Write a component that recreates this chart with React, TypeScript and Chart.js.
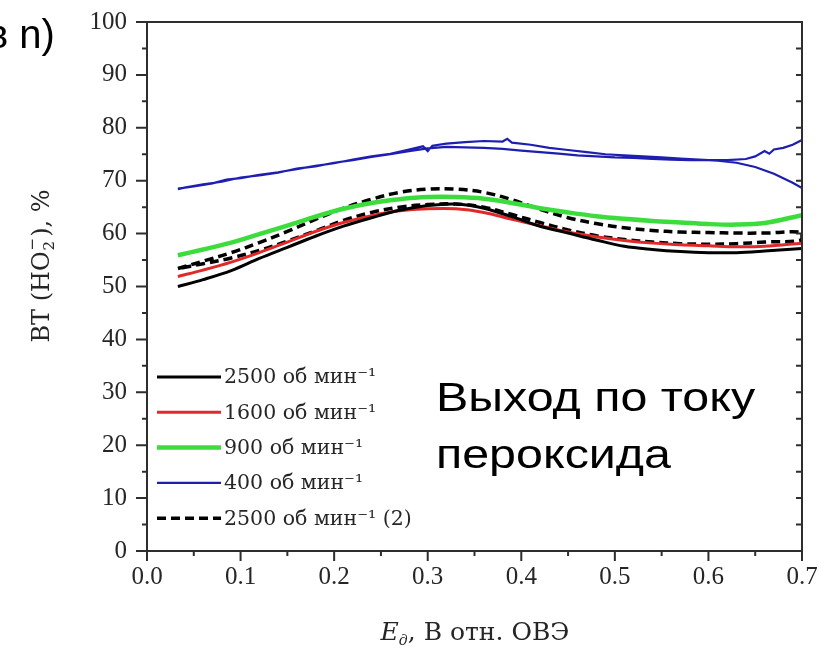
import React, { useEffect, useRef } from 'react';
import { Chart, registerables } from 'chart.js';

Chart.register(...registerables);

// ---- data ----
const E = [0.033, 0.06, 0.09, 0.12, 0.15, 0.18, 0.21, 0.24, 0.27, 0.30, 0.33, 0.36, 0.39, 0.42, 0.45, 0.48, 0.51, 0.54, 0.57, 0.60, 0.63, 0.66, 0.70];
const BT_2500 = [50.0, 51.3, 53.0, 55.3, 57.4, 59.5, 61.4, 63.0, 64.4, 65.3, 65.6, 64.8, 63.2, 61.4, 60.1, 58.8, 57.6, 57.0, 56.6, 56.4, 56.4, 56.7, 57.2];
const BT_1600 = [51.9, 53.1, 54.6, 56.4, 58.4, 60.4, 62.1, 63.4, 64.3, 64.7, 64.7, 64.0, 62.7, 61.5, 60.3, 59.4, 58.7, 58.2, 57.9, 57.7, 57.5, 57.6, 58.2];
const BT_900 = [55.9, 57.0, 58.3, 59.9, 61.5, 63.2, 64.7, 65.8, 66.5, 66.9, 66.9, 66.6, 65.8, 64.8, 64.0, 63.3, 62.8, 62.4, 62.1, 61.8, 61.7, 62.0, 63.5];
const BT_2500B_FWD = [53.4, 54.8, 56.4, 58.3, 60.4, 62.7, 64.8, 66.5, 67.8, 68.4, 68.4, 67.8, 66.4, 64.6, 63.0, 61.9, 61.1, 60.6, 60.3, 60.2, 60.1, 60.1, 60.2];
const E_BACK = [0.70, 0.66, 0.63, 0.60, 0.57, 0.54, 0.51, 0.48, 0.45, 0.42, 0.39, 0.36, 0.33, 0.30, 0.27, 0.24, 0.21, 0.18, 0.15, 0.12, 0.09, 0.06, 0.033];
const BT_2500B_BACK = [58.8, 58.4, 58.1, 58.0, 58.1, 58.4, 58.9, 59.6, 60.7, 62.1, 63.6, 65.0, 65.6, 65.5, 65.0, 64.0, 62.5, 60.5, 58.6, 56.8, 55.4, 54.3, 53.4];

const E_400_FWD = [0.033, 0.05, 0.07, 0.085, 0.10, 0.12, 0.14, 0.16, 0.18, 0.20, 0.22, 0.24, 0.26, 0.28, 0.295, 0.30, 0.305, 0.32, 0.34, 0.36, 0.38, 0.385, 0.39, 0.41, 0.43, 0.45, 0.47, 0.49, 0.51, 0.53, 0.55, 0.57, 0.59, 0.61, 0.63, 0.65, 0.67, 0.69, 0.70];
const BT_400_FWD = [68.5, 68.9, 69.5, 70.2, 70.5, 71.1, 71.6, 72.2, 72.8, 73.3, 74.0, 74.6, 75.1, 75.9, 76.5, 75.6, 76.6, 77.0, 77.3, 77.5, 77.4, 77.9, 77.2, 76.8, 76.2, 75.8, 75.4, 75.0, 74.8, 74.6, 74.4, 74.2, 74.0, 73.8, 73.4, 72.6, 71.3, 69.6, 68.6];
const E_400_BACK = [0.70, 0.69, 0.68, 0.67, 0.665, 0.66, 0.65, 0.64, 0.62, 0.60, 0.58, 0.56, 0.54, 0.52, 0.50, 0.48, 0.46, 0.44, 0.42, 0.40, 0.38, 0.36, 0.34, 0.32, 0.30, 0.28, 0.26, 0.24, 0.22, 0.20, 0.18, 0.16, 0.14, 0.12, 0.10, 0.08, 0.06, 0.04, 0.033];
const BT_400_BACK = [77.7, 76.8, 76.2, 75.9, 75.1, 75.6, 74.6, 74.1, 73.9, 73.9, 73.9, 74.0, 74.1, 74.3, 74.4, 74.6, 74.8, 75.1, 75.4, 75.7, 76.0, 76.2, 76.3, 76.4, 76.1, 75.6, 75.0, 74.5, 73.9, 73.4, 72.7, 72.3, 71.5, 71.0, 70.6, 69.8, 69.3, 68.7, 68.4];

const X_TICKS = [0, 0.1, 0.2, 0.3, 0.4, 0.5, 0.6, 0.7];
const Y_TICKS = [0, 10, 20, 30, 40, 50, 60, 70, 80, 90, 100];
const SERIES_LABELS = ['2500 об мин⁻¹', '1600 об мин⁻¹', '900 об мин⁻¹', '400 об мин⁻¹', '2500 об мин⁻¹ (2)'];

// ---- styles ----
const AXIS = '#2e2e2e';
const TEXT = '#262626';
const SERIF = '"DejaVu Serif", serif';
const TICKSERIF = '"Liberation Serif", serif';
const SANS = '"Liberation Sans", Arial, sans-serif';

const pts = (xs: number[], ys: number[]) => xs.map((x, i) => ({ x, y: ys[i] }));

const decor = {
  id: 'decor',
  afterDraw(chart: any) {
    const { ctx, chartArea: a, scales } = chart;
    const xs = scales.x;
    const ys = scales.y;
    ctx.save();
    // frame
    ctx.strokeStyle = AXIS;
    ctx.lineWidth = 2;
    ctx.strokeRect(a.left, a.top, a.right - a.left, a.bottom - a.top);
    ctx.beginPath();
    Y_TICKS.forEach((v, i) => {
      const p = ys.getPixelForValue(v);
      ctx.moveTo(a.left - 11, p); ctx.lineTo(a.left, p);
      ctx.moveTo(a.right, p); ctx.lineTo(a.right - 6, p);
      if (i < Y_TICKS.length - 1) {
        const m = ys.getPixelForValue((v + Y_TICKS[i + 1]) / 2);
        ctx.moveTo(a.left - 5, m); ctx.lineTo(a.left, m);
        ctx.moveTo(a.right, m); ctx.lineTo(a.right - 6, m);
      }
    });
    X_TICKS.forEach((v, i) => {
      const p = xs.getPixelForValue(v);
      ctx.moveTo(p, a.bottom); ctx.lineTo(p, a.bottom + 10);
      if (i < X_TICKS.length - 1) {
        const m = xs.getPixelForValue((v + X_TICKS[i + 1]) / 2);
        ctx.moveTo(m, a.bottom); ctx.lineTo(m, a.bottom + 5);
      }
    });
    ctx.stroke();

    // legend
    const rowY0 = 377;
    const rowStep = 35.3;
    chart.data.datasets.forEach((ds: any, i: number) => {
      const yy = rowY0 + i * rowStep;
      ctx.save();
      ctx.strokeStyle = ds.borderColor;
      ctx.lineWidth = ds.borderWidth;
      ctx.setLineDash(ds.borderDash || []);
      ctx.beginPath();
      ctx.moveTo(157, yy);
      ctx.lineTo(221, yy);
      ctx.stroke();
      ctx.restore();
      ctx.fillStyle = TEXT;
      ctx.font = `20.5px ${SERIF}`;
      ctx.textBaseline = 'middle';
      ctx.textAlign = 'left';
      ctx.fillText(ds.label, 224, yy + 1);
    });

    // y title (rotated)
    ctx.save();
    ctx.translate(41, 266);
    ctx.rotate(-Math.PI / 2);
    ctx.fillStyle = TEXT;
    ctx.textBaseline = 'alphabetic';
    ctx.textAlign = 'left';
    const big = `24px ${SERIF}`;
    const small = `15px ${SERIF}`;
    ctx.font = big;
    const p1 = 'ВТ (HO';
    const p3 = '), %';
    const w1 = ctx.measureText(p1).width;
    const w3 = ctx.measureText(p3).width;
    ctx.font = small;
    const wsub = Math.max(ctx.measureText('2').width, ctx.measureText('−').width) + 2;
    const total = w1 + wsub + w3;
    let cx = -total / 2;
    const base = 8;
    ctx.font = big;
    ctx.fillText(p1, cx, base);
    cx += w1 + 1;
    ctx.font = small;
    ctx.fillText('2', cx, base + 5);
    ctx.fillText('−', cx, base - 12);
    cx += wsub - 1;
    ctx.font = big;
    ctx.fillText(p3, cx, base);
    ctx.restore();

    // x title
    ctx.fillStyle = TEXT;
    ctx.textBaseline = 'alphabetic';
    ctx.textAlign = 'left';
    const fE = `italic 25px ${SERIF}`;
    const fSub = `italic 14px ${SERIF}`;
    const fRest = `25px ${SERIF}`;
    ctx.font = fE;
    const wE = ctx.measureText('E').width;
    ctx.font = fSub;
    const wD = ctx.measureText('д').width;
    ctx.font = fRest;
    const rest = ', В отн. ОВЭ';
    const wR = ctx.measureText(rest).width;
    let tx = 475 - (wE + wD + wR) / 2;
    const tb = 640;
    ctx.font = fE; ctx.fillText('E', tx, tb); tx += wE;
    ctx.font = fSub; ctx.fillText('д', tx, tb + 5); tx += wD;
    ctx.font = fRest; ctx.fillText(rest, tx, tb);

    // annotations
    ctx.fillStyle = '#000';
    ctx.font = `41px ${SANS}`;
    ctx.save();
    ctx.translate(436, 0);
    ctx.scale(1.18, 1);
    ctx.fillText('Выход по току', 0, 411);
    ctx.fillText('пероксида', 0, 468);
    ctx.restore();
    ctx.font = `40px ${SANS}`;
    ctx.fillText('в n)', -13, 48);
    ctx.restore();
  },
};

export default function App() {
  const ref = useRef<HTMLCanvasElement | null>(null);
  useEffect(() => {
    if (!ref.current) return;
    const blue = [...pts(E_400_FWD, BT_400_FWD), { x: 0.7, y: null as any }, ...pts(E_400_BACK, BT_400_BACK)];
    const chart = new Chart(ref.current, {
      type: 'line',
      data: {
        datasets: [
          { label: SERIES_LABELS[0], data: pts(E, BT_2500), borderColor: '#000000', borderWidth: 3, tension: 0.35, pointRadius: 0 },
          { label: SERIES_LABELS[1], data: pts(E, BT_1600), borderColor: '#e02a2a', borderWidth: 3, tension: 0.35, pointRadius: 0 },
          { label: SERIES_LABELS[2], data: pts(E, BT_900), borderColor: '#3ddc3d', borderWidth: 4.5, tension: 0.35, pointRadius: 0 },
          { label: SERIES_LABELS[3], data: blue, borderColor: '#1e1eb0', borderWidth: 2.2, tension: 0, pointRadius: 0, spanGaps: false },
          { label: SERIES_LABELS[4], data: [...pts(E, BT_2500B_FWD), ...pts(E_BACK, BT_2500B_BACK)], borderColor: '#000000', borderWidth: 3.5, borderDash: [9, 5], tension: 0.35, pointRadius: 0 },
        ] as any,
      },
      options: {
        animation: false,
        responsive: false,
        devicePixelRatio: 1,
        layout: { padding: { top: 22, right: 19, left: 0, bottom: 0 } },
        plugins: { legend: { display: false }, tooltip: { enabled: false } },
        scales: {
          x: {
            type: 'linear',
            min: 0,
            max: 0.7,
            afterFit: (s: any) => { s.height = 102; s.paddingLeft = 0; s.paddingRight = 0; },
            afterBuildTicks: (s: any) => { s.ticks = X_TICKS.map((v) => ({ value: v })); },
            grid: { display: false, drawTicks: false },
            border: { display: false },
            ticks: { color: TEXT, font: { family: TICKSERIF, size: 25 }, padding: 11, maxRotation: 0, callback: (v: any) => Number(v).toFixed(1) },
          },
          y: {
            type: 'linear',
            min: 0,
            max: 100,
            afterFit: (s: any) => { s.width = 147; s.paddingTop = 0; s.paddingBottom = 0; },
            afterBuildTicks: (s: any) => { s.ticks = Y_TICKS.map((v) => ({ value: v })); },
            grid: { display: false, drawTicks: false },
            border: { display: false },
            ticks: { color: TEXT, font: { family: TICKSERIF, size: 25 }, padding: 20, callback: (v: any) => String(v) },
          },
        },
      } as any,
      plugins: [decor],
    });
    return () => chart.destroy();
  }, []);
  return (
    <div style={{ position: 'absolute', left: 0, top: 0, width: 821, height: 653, background: '#fff' }}>
      <canvas ref={ref} width={821} height={653} style={{ display: 'block', width: 821, height: 653 }} />
    </div>
  );
}
